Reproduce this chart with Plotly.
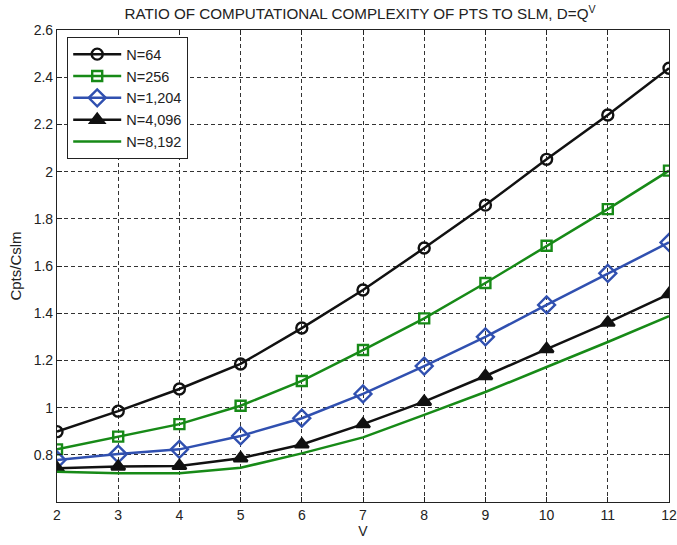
import plotly.graph_objects as go

V = [2, 3, 4, 5, 6, 7, 8, 9, 10, 11, 12]
n64 = [0.898, 0.985, 1.079, 1.185, 1.337, 1.498, 1.676, 1.858, 2.052, 2.240, 2.438]
n256 = [0.823, 0.877, 0.930, 1.008, 1.113, 1.244, 1.378, 1.528, 1.686, 1.841, 2.004]
n1204 = [0.778, 0.803, 0.823, 0.880, 0.955, 1.058, 1.176, 1.300, 1.435, 1.569, 1.700]
n4096 = [0.743, 0.750, 0.753, 0.785, 0.844, 0.930, 1.025, 1.134, 1.248, 1.360, 1.481]
n8192 = [0.728, 0.722, 0.722, 0.745, 0.806, 0.874, 0.969, 1.066, 1.172, 1.278, 1.388]

GREEN = "#178a17"
BLUE = "#3050b0"
BLACK = "#111111"
FONT = "Liberation Sans, Arial, sans-serif"

series = [
    ("N=64", n64, BLACK, "circle-open", 11),
    ("N=256", n256, GREEN, "square-open", 10),
    ("N=1,204", n1204, BLUE, "diamond-open", 13),
    ("N=4,096", n4096, BLACK, "triangle-up", 12),
    ("N=8,192", n8192, GREEN, None, 0),
]

fig = go.Figure()
for i, (name, ys, col, sym, sz) in enumerate(series):
    if sym:
        fig.add_trace(go.Scatter(
            x=V, y=ys, name=name, mode="lines+markers",
            line=dict(color=col, width=2.5),
            marker=dict(symbol=sym, size=sz, color=col, line=dict(color=col, width=2.4)),
        ))
    else:
        fig.add_trace(go.Scatter(
            x=V, y=ys, name=name, mode="lines",
            line=dict(color=col, width=2.5),
        ))

axis_common = dict(
    showline=True, linecolor="#222", linewidth=1.2, mirror="ticks",
    showgrid=True, gridcolor="#333", griddash="4px,3px", gridwidth=1,
    ticks="inside", ticklen=5, tickcolor="#222",
    zeroline=False, automargin=False,
    tickfont=dict(size=14, color="#222", family=FONT),
)

fig.update_layout(
    width=677, height=545,
    margin=dict(l=57, r=8, t=30, b=43),
    paper_bgcolor="white", plot_bgcolor="white",
    font=dict(family=FONT, color="#222"),
    title=dict(text="RATIO OF COMPUTATIONAL COMPLEXITY OF PTS TO SLM, D=Q<sup>V</sup>",
               x=360 / 677, xanchor="center", y=1 - 14 / 545, yanchor="middle",
               font=dict(size=15.2, color="#222", family=FONT)),
    xaxis=dict(range=[2, 12], tickvals=V, ticktext=[str(v) for v in V],
               title=dict(text="V", font=dict(size=14, family=FONT), standoff=4), **axis_common),
    yaxis=dict(range=[0.6, 2.6], tickvals=[0.8, 1.0, 1.2, 1.4, 1.6, 1.8, 2.0, 2.2, 2.4, 2.6],
               ticktext=["0.8", "1", "1.2", "1.4", "1.6", "1.8", "2", "2.2", "2.4", "2.6"],
               title=dict(text="Cpts/Cslm", font=dict(size=15, family=FONT), standoff=8), **axis_common),
    legend=dict(x=(67 - 57) / 612, y=1 - (37 - 30) / 472, xanchor="left", yanchor="top",
                bgcolor="white", bordercolor="#222", borderwidth=1.2,
                font=dict(size=14.5, color="#222", family=FONT),
                itemwidth=48),
    showlegend=True,
)

fig.write_html("out.html", config={"displayModeBar": False},
               post_script="document.body.style.margin='0';document.body.style.padding='0';")
